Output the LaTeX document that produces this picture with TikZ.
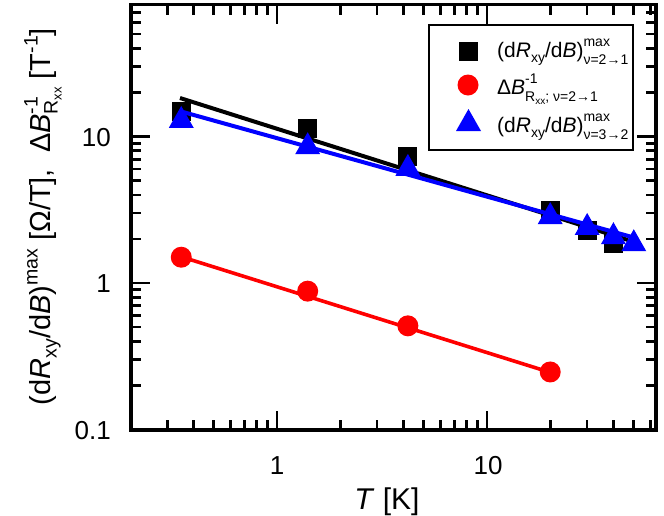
\documentclass[tikz,border=0pt]{standalone}
\usepackage{fontspec}
\setmainfont{Liberation Sans}
\newcommand\fs[1]{\fontsize{#1}{#1}\selectfont}
\pgfmathdeclarefunction{X}{1}{\pgfmathparse{277+210*log10(#1)}}
\pgfmathdeclarefunction{Y}{1}{\pgfmathparse{283-146.5*log10(#1)}}
\tikzset{
  frame/.style={line width=3.2pt},
  tick/.style={line width=2.6pt},
  fitline/.style={line width=4pt},
  sqmark/.style={fill=black},
  cmark/.style={fill=red},
  tmark/.style={fill=blue},
  ticklab/.style={inner sep=0pt,font=\fs{26}},
}
\newcommand\sqm[2]{\fill[sqmark] ({X(#1)-9.5},{Y(#2)-9.5}) rectangle ({X(#1)+9.5},{Y(#2)+9.5});}
\newcommand\cim[2]{\fill[cmark] ({X(#1)},{Y(#2)}) circle (10.5);}
\newcommand\trm[2]{\fill[tmark] ({X(#1)-12.5},{Y(#2)+11}) -- ({X(#1)},{Y(#2)-11}) -- ({X(#1)+12.5},{Y(#2)+11}) -- cycle;}
\begin{document}
\begin{tikzpicture}[x=1pt,y=-1pt]
\useasboundingbox[fill=white] (0,0) rectangle (664,515);
% ticks
\foreach \t in {0.3,0.4,0.5,0.6,0.7,0.8,0.9,2,3,4,5,6,7,8,9,20,30,40,50,60}{
  \draw[tick] ({X(\t)},430) -- ++(0,-10);
  \draw[tick] ({X(\t)},4.5) -- ++(0,10);
}
\foreach \t in {1,10}{
  \draw[tick] ({X(\t)},430) -- ++(0,-19);
  \draw[tick] ({X(\t)},4.5) -- ++(0,19);
}
\foreach \v in {0.2,0.3,0.4,0.5,0.6,0.7,0.8,0.9,2,3,4,5,6,7,8,9,20,30,40,50,60,70}{
  \draw[tick] (131,{Y(\v)}) -- ++(10,0);
  \draw[tick] (656,{Y(\v)}) -- ++(-10,0);
}
\foreach \v in {1,10}{
  \draw[tick] (131,{Y(\v)}) -- ++(19,0);
  \draw[tick] (656,{Y(\v)}) -- ++(-19,0);
}
\draw[frame] (131,4.5) rectangle (656,430);
% tick labels
\node[ticklab,anchor=base east] (y10) at (111,146.5) {10};
\node[ticklab,anchor=base east] (y1) at (111,292) {1};
\node[ticklab,anchor=base east] (y01) at (111,439) {0.1};
\node[ticklab,anchor=base] (x1) at (277,474.5) {1};
\node[ticklab,anchor=base] (x10) at (488,474.5) {10};
% axis titles
\node[inner sep=0pt,anchor=base,font=\fs{30}] (xt) at (387,509) {\textit{T} [K]};
\node[inner sep=0pt,rotate=90,anchor=base,font=\fs{29}] (yt) at (50,216.5)
  {(d\textit{R}\raisebox{-6.5pt}{\fs{19.5}xy}/d\textit{B})\raisebox{12.5pt}{\fs{19.5}max} [Ω/T],\ \ Δ\textit{B}\rlap{\raisebox{12.5pt}{\fs{19.5}-1}}\raisebox{-7.5pt}{\fs{19.5}R\raisebox{-4pt}{\fs{13}xx}} [T\raisebox{12.5pt}{\fs{19.5}-1}]};
% data: squares
\sqm{0.35}{14.7}\sqm{1.4}{11.4}\sqm{4.2}{7.25}\sqm{20}{3.15}\sqm{30}{2.3}\sqm{40}{1.87}
% fit lines
\draw[fitline,black] (180,98) -- (628,240);
\draw[fitline,blue] (183,112) -- (632,237);
\draw[fitline,red,line width=3.6pt] (182,257) -- (549,372);
% triangles
\trm{0.35}{13.6}\trm{1.4}{9.0}\trm{4.2}{6.4}\trm{20}{3.0}\trm{30}{2.53}\trm{40}{2.19}\trm{50}{1.96}
% circles
\cim{0.35}{1.5}\cim{1.4}{0.88}\cim{4.2}{0.51}\cim{20}{0.247}
% legend
\draw[line width=1.5pt,fill=white] (429,25) rectangle (633,150);
\fill[sqmark] (458.5,41.5) rectangle (477.5,60.5);
\fill[cmark] (468,85) circle (10.5);
\fill[tmark] (456,131) -- (468.5,109) -- (481,131) -- cycle;
\node[inner sep=0pt,anchor=base west,font=\fs{21}] (l1) at (497,57.5)
  {(d\textit{R}\raisebox{-5pt}{\fs{14}xy}/d\textit{B})\rlap{\raisebox{11pt}{\fs{14}max}}\raisebox{-7pt}{\fs{14}ν=2→1}};
\node[inner sep=0pt,anchor=base west,font=\fs{21}] (l2) at (497,94.5)
  {Δ\textit{B}\rlap{\raisebox{11pt}{\fs{14}-1}}\raisebox{-7pt}{\fs{14}R\raisebox{-3pt}{\fs{10}xx}; ν=2→1}};
\node[inner sep=0pt,anchor=base west,font=\fs{21}] (l3) at (497,132.5)
  {(d\textit{R}\raisebox{-5pt}{\fs{14}xy}/d\textit{B})\rlap{\raisebox{11pt}{\fs{14}max}}\raisebox{-7pt}{\fs{14}ν=3→2}};
\end{tikzpicture}
\end{document}
